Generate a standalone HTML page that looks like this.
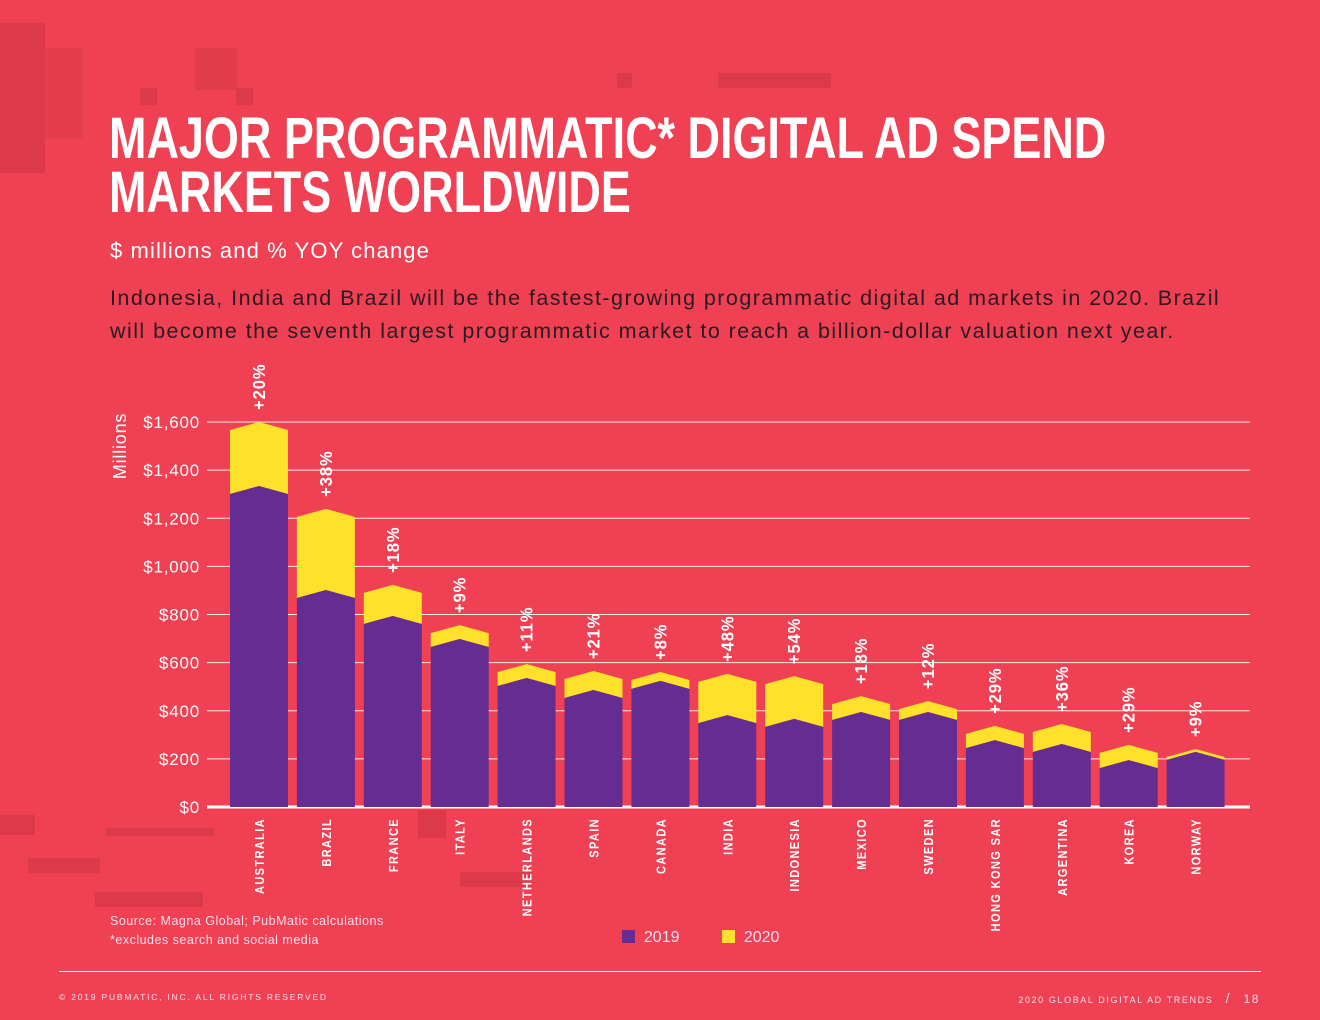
<!DOCTYPE html>
<html><head><meta charset="utf-8"><style>
html,body{margin:0;padding:0}
body{width:1320px;height:1020px;background:#EF4153;position:relative;overflow:hidden;font-family:"Liberation Sans",sans-serif;color:#fff}
.dec{position:absolute;background:#DC3A4A}
h1{position:absolute;left:109px;top:112px;margin:0;font-family:"Liberation Sans",sans-serif;font-weight:bold;font-size:58px;line-height:54px;color:#fff;white-space:nowrap;transform:scaleX(0.775);transform-origin:0 0}
.sub{position:absolute;left:110px;top:238px;font-size:22px;color:#fff;letter-spacing:1.1px;white-space:nowrap}
.desc{position:absolute;left:110px;top:282px;font-size:21.5px;line-height:33px;color:#2a1a22;letter-spacing:1.45px;white-space:nowrap}
svg{position:absolute;left:0;top:0}
</style></head><body>
<div class="dec" style="left:0;top:23px;width:45px;height:150px"></div>
<div class="dec" style="left:45px;top:48px;width:38px;height:90px;opacity:.6"></div>
<div class="dec" style="left:195px;top:48px;width:42px;height:42px;opacity:.8"></div>
<div class="dec" style="left:140px;top:88px;width:17px;height:17px"></div>
<div class="dec" style="left:236px;top:88px;width:17px;height:17px"></div>
<div class="dec" style="left:617px;top:73px;width:15px;height:15px"></div>
<div class="dec" style="left:718px;top:73px;width:113px;height:15px"></div>
<div class="dec" style="left:0;top:815px;width:35px;height:20px"></div>
<div class="dec" style="left:105px;top:828px;width:110px;height:8px"></div>
<div class="dec" style="left:28px;top:858px;width:72px;height:15px"></div>
<div class="dec" style="left:95px;top:892px;width:108px;height:15px"></div>
<div class="dec" style="left:460px;top:872px;width:72px;height:15px"></div>
<div class="dec" style="left:418px;top:810px;width:28px;height:28px"></div>
<h1>MAJOR PROGRAMMATIC* DIGITAL AD SPEND<br>MARKETS WORLDWIDE</h1>
<div class="sub">$ millions and % YOY change</div>
<div class="desc">Indonesia, India and Brazil will be the fastest-growing programmatic digital ad markets in 2020. Brazil<br>will become the seventh largest programmatic market to reach a billion-dollar valuation next year.</div>
<svg id="chart" width="1320" height="1020"></svg>
<script>
const categories=["AUSTRALIA","BRAZIL","FRANCE","ITALY","NETHERLANDS","SPAIN","CANADA","INDIA","INDONESIA","MEXICO","SWEDEN","HONG KONG SAR","ARGENTINA","KOREA","NORWAY"];
const values2019=[1334,902,794,698,536,486,524,382,366,395,395,278,262,195,229];
const values2020=[1600,1239,923,756,594,565,561,553,544,461,440,337,345,258,241];
const changeLabels=["+20%","+38%","+18%","+9%","+11%","+21%","+8%","+48%","+54%","+18%","+12%","+29%","+36%","+29%","+9%"];
const yTicks=[0,200,400,600,800,1000,1200,1400,1600];
const NS="http://www.w3.org/2000/svg";
const svg=document.getElementById('chart');
const y0=807,yTop=422,vMax=1600;
function yScale(v){return y0-(v/vMax)*(y0-yTop);}
function xScale(i){return 230+i*66.9;}
const bw=58,roof=8;
function mk(tag,attrs,txt){const e=document.createElementNS(NS,tag);for(const k in attrs)e.setAttribute(k,attrs[k]);if(txt!==undefined)e.textContent=txt;svg.appendChild(e);return e;}
yTicks.forEach(t=>{
  const y=yScale(t);
  const l=mk('line',{x1:207,x2:1250,y1:y,y2:y,stroke:'#fff','stroke-width':t===0?3:1,opacity:t===0?1:0.9});
  
  
  const tx=mk('text',{x:200,y:y+6,'text-anchor':'end','font-size':17,'letter-spacing':0.8,fill:'#fff','font-family':'Liberation Sans, sans-serif'},'$'+t.toLocaleString('en-US'));
  
  
});
const yt=mk('text',{x:0,y:0,transform:'translate(126,446) rotate(-90)','text-anchor':'middle','font-size':18,'letter-spacing':0.8,fill:'#fff'},'Millions');


function roofPoly(x,vTop,vBot,botFlat){
  const pt=yScale(vTop),et=pt+roof;
  let pts=`${x},${et} ${x+bw/2},${pt} ${x+bw},${et} `;
  if(botFlat){pts+=`${x+bw},${y0} ${x},${y0}`;}
  else{const pb=yScale(vBot),eb=pb+roof;pts+=`${x+bw},${eb} ${x+bw/2},${pb} ${x},${eb}`;}
  return pts;
}
categories.forEach((c,i)=>{
  const x=xScale(i);
  const b2=mk('polygon',{points:roofPoly(x,values2020[i],values2019[i],false),fill:'#FFE12B'});
  
  
  const b1=mk('polygon',{points:roofPoly(x,values2019[i],0,true),fill:'#652D92'});
  
  
  const cx=x+bw/2+5;
  const lab=mk('text',{x:0,y:0,transform:`translate(${cx},818) rotate(-90) scale(0.85,1)`,'text-anchor':'end','font-size':13,'font-weight':'bold','letter-spacing':1.6,fill:'#fff'},c);
  
  
  const pl=mk('text',{x:0,y:0,transform:`translate(${cx+1},${yScale(values2020[i])-12}) rotate(-90) scale(0.92,1)`,'text-anchor':'start','font-size':18,'font-weight':'bold','letter-spacing':1,fill:'#fff'},changeLabels[i]);
  
  
});
</script>
<div style="position:absolute;left:110px;top:912px;font-size:12.5px;line-height:19px;letter-spacing:0.5px;color:#fde">Source: Magna Global; PubMatic calculations<br>*excludes search and social media</div>
<div style="position:absolute;left:622px;top:929px;font-size:16px;color:#fde">
<span><span style="display:inline-block;width:13px;height:13px;background:#652D92;vertical-align:-1px"></span>&nbsp; 2019</span>
<span style="margin-left:38px"><span style="display:inline-block;width:13px;height:13px;background:#FFE12B;vertical-align:-1px"></span>&nbsp; 2020</span></div>
<div style="position:absolute;left:59px;top:971px;width:1202px;height:1px;background:#fff"></div>
<div style="position:absolute;left:59px;top:992px;font-size:8.5px;letter-spacing:1.8px;color:#fde">© 2019 PUBMATIC, INC. ALL RIGHTS RESERVED</div>
<div style="position:absolute;right:60px;top:990px;font-size:9px;letter-spacing:1.6px;color:#fde">2020 GLOBAL DIGITAL AD TRENDS &nbsp; <span style="font-size:14px">/</span> &nbsp; <span style="font-size:12px">18</span></div>
</body></html>
